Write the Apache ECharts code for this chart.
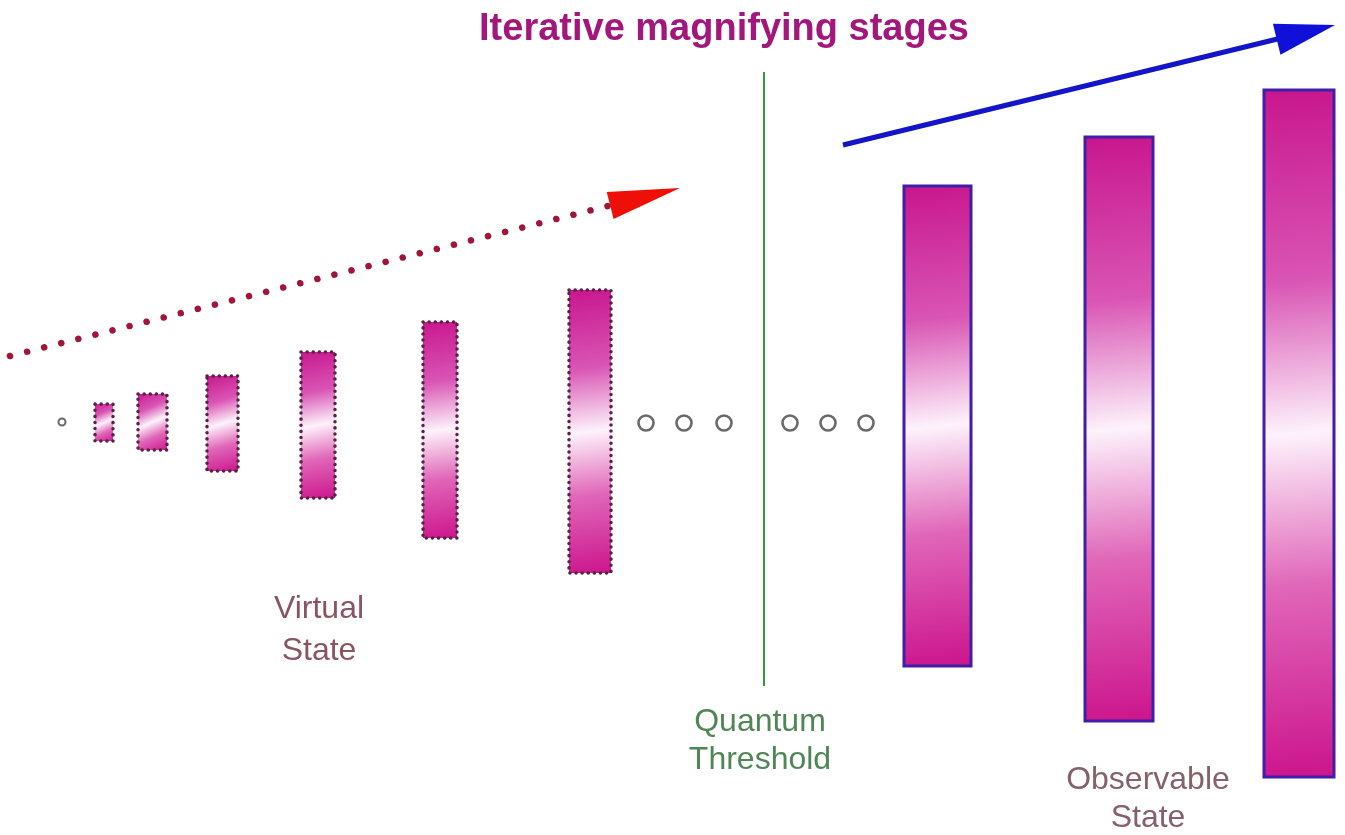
<!DOCTYPE html>
<html>
<head>
<meta charset="utf-8">
<script src="https://cdn.jsdelivr.net/npm/echarts@6/dist/echarts.min.js"></script>
<style>html,body{margin:0;padding:0;background:#fff}#c{width:1345px;height:835px}</style>
</head>
<body>
<div id="c"></div>
<script>
// ---- data ----
// stages: [left, right, top, bottom] in diagram units
const virtualStages = [
  [95, 113, 404, 441],
  [138, 167, 394, 450],
  [207, 238, 376, 471],
  [301, 335, 352, 498],
  [423, 457, 322, 538],
  [569, 611, 290, 573]
];
const observableStages = [
  [904, 971, 186, 666],
  [1085, 1153, 137, 721],
  [1264, 1334, 90, 777]
];
const seedPoint = [[62, 422]];
const ellipsisPoints = [[646, 423], [684, 423], [724, 423], [790, 423], [828, 423], [866, 423]];
const thresholdLine = [[764, 72], [764, 686]];
const virtualArrow = [[10, 356, 680, 188]];
const observableArrow = [[843, 145, 1335, 25]];
const titleText = 'Iterative magnifying stages';
const labelVirtual = 'Virtual\nState';
const labelThreshold = 'Quantum\nThreshold';
const labelObservable = 'Observable\nState';

function barGradient() {
  return new echarts.graphic.LinearGradient(0.1, 0, 0.9, 1, [
    {offset: 0, color: '#c8168e'},
    {offset: 0.28, color: '#d955b4'},
    {offset: 0.5, color: '#fdf2fb'},
    {offset: 0.72, color: '#e066b8'},
    {offset: 1, color: '#cc148c'}
  ]);
}

function stageRender(stroke, lineWidth, dash, cap) {
  return function (params, api) {
    const p0 = api.coord([api.value(0), api.value(2)]);
    const p1 = api.coord([api.value(1), api.value(3)]);
    return {
      type: 'rect',
      shape: {x: p0[0], y: p0[1], width: p1[0] - p0[0], height: p1[1] - p0[1]},
      style: {fill: barGradient(), stroke: stroke, lineWidth: lineWidth, lineDash: dash, lineCap: cap}
    };
  };
}

function arrowRender(lineColor, headColor, lineWidth, dash, headLen, headHalf, cap) {
  return function (params, api) {
    const a = api.coord([api.value(0), api.value(1)]);
    const b = api.coord([api.value(2), api.value(3)]);
    const dx = b[0] - a[0], dy = b[1] - a[1];
    const len = Math.sqrt(dx * dx + dy * dy);
    const ux = dx / len, uy = dy / len;
    const bx = b[0] - ux * headLen, by = b[1] - uy * headLen;
    const nx = -uy, ny = ux;
    return {
      type: 'group',
      children: [
        {type: 'line', shape: {x1: a[0], y1: a[1], x2: bx + ux * 4, y2: by + uy * 4},
         style: {stroke: lineColor, lineWidth: lineWidth, lineDash: dash, lineCap: cap}},
        {type: 'polygon', shape: {points: [[b[0], b[1]], [bx + nx * headHalf, by + ny * headHalf], [bx - nx * headHalf, by - ny * headHalf]]},
         style: {fill: headColor}}
      ]
    };
  };
}

const chart = echarts.init(document.getElementById('c'), null, {renderer: 'canvas'});
chart.setOption({
  backgroundColor: '#ffffff',
  animation: false,
  grid: {left: 0, right: 0, top: 0, bottom: 0},
  xAxis: {type: 'value', min: 0, max: 1345, show: false},
  yAxis: {type: 'value', min: 0, max: 835, inverse: true, show: false},
  series: [
    {type: 'line', data: thresholdLine, symbol: 'none', lineStyle: {color: '#2e9a3c', width: 2}, z: 1},
    {type: 'custom', data: virtualStages, renderItem: stageRender('#5c2042', 3.5, [0.1, 6], 'round'), z: 3},
    {type: 'custom', data: observableStages, renderItem: stageRender('#3f1fa8', 3, null, 'butt'), z: 3},
    {type: 'scatter', data: seedPoint, symbol: 'circle', symbolSize: 7,
     itemStyle: {color: '#ffffff', borderColor: '#444444', borderWidth: 2}, z: 4},
    {type: 'scatter', data: ellipsisPoints, symbol: 'circle', symbolSize: 15,
     itemStyle: {color: '#ffffff', borderColor: '#444444', borderWidth: 2.6}, z: 4},
    {type: 'custom', data: virtualArrow, renderItem: arrowRender('#a01538', '#ee1008', 6.5, [0.1, 17.5], 72, 14, 'round'), z: 5},
    {type: 'custom', data: observableArrow, renderItem: arrowRender('#1414c8', '#1010d8', 5, null, 60, 16, 'butt'), z: 5}
  ],
  graphic: [
    {type: 'text', x: 724, y: 30, style: {text: titleText, fill: '#a3177c', font: 'bold 38px "Liberation Sans", Arial, sans-serif', align: 'center', verticalAlign: 'middle'}},
    {type: 'text', x: 319, y: 630, style: {text: labelVirtual, fill: '#8a5563', font: '32px "Liberation Sans", Arial, sans-serif', align: 'center', verticalAlign: 'middle', lineHeight: 42}},
    {type: 'text', x: 760, y: 741, style: {text: labelThreshold, fill: '#4f8656', font: '32px "Liberation Sans", Arial, sans-serif', align: 'center', verticalAlign: 'middle', lineHeight: 38}},
    {type: 'text', x: 1148, y: 799, style: {text: labelObservable, fill: '#86606a', font: '32px "Liberation Sans", Arial, sans-serif', align: 'center', verticalAlign: 'middle', lineHeight: 38}}
  ]
});
</script>
</body>
</html>
